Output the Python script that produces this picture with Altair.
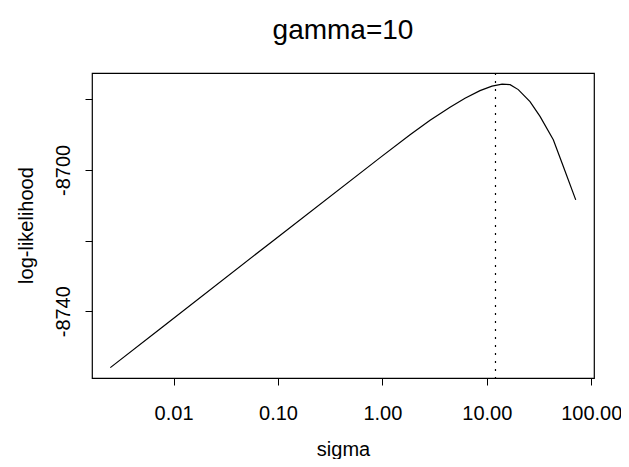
import altair as alt
import pandas as pd

# values
sigma = [0.00248, 0.00746, 0.0906, 0.951, 1.84, 2.86, 4.44, 6.18, 8.60, 11.2,
         14.0, 16.7, 20.0, 25.9, 32.3, 43.3, 54.0, 71.0]
loglik = [-8755.97, -8744.97, -8719.97, -8696.54, -8690.07, -8685.96, -8682.27,
          -8679.72, -8677.59, -8676.31, -8675.74, -8675.89, -8677.30, -8680.71,
          -8684.88, -8691.49, -8699.06, -8708.51]
sigma_hat = [12.1]
x_ticks = [0.01, 0.1, 1, 10, 100]
y_ticks = [-8740, -8720, -8700, -8680]
x_domain = [0.001656, 106.2]
y_domain = [-8758.9, -8672.6]

df = pd.DataFrame({"sigma": sigma, "loglik": loglik})
vdf = pd.DataFrame({"sigma": sigma_hat})

FONT = "Liberation Sans"

xscale = alt.Scale(type="log", domain=x_domain, nice=False, zero=False)
yscale = alt.Scale(domain=y_domain, nice=False, zero=False)

xaxis = alt.Axis(
    title="sigma", values=x_ticks, format=".2f", grid=False, domain=False,
    ticks=True, tickSize=7, tickColor="black", labelColor="black",
    labelFont=FONT, labelFontSize=20, labelPadding=18, labelFlush=False,
    titleFont=FONT, titleFontSize=20, titleFontWeight="normal", titleColor="black",
    titleY=77, titleBaseline="alphabetic",
)
yaxis = alt.Axis(
    title="log-likelihood", values=y_ticks,
    labelExpr="datum.value % 40 == 0 ? '' : '' + datum.value",
    grid=False, domain=False, ticks=True, tickSize=7, tickColor="black",
    labelColor="black", labelFont=FONT, labelFontSize=20, labelAngle=270,
    labelAlign="center", labelBaseline="alphabetic", labelPadding=16,
    labelFlush=False, labelOverlap=False,
    titleFont=FONT, titleFontSize=20, titleFontWeight="normal", titleColor="black",
    titleAngle=270, titleX=-60, titleY=152, titleAlign="center",
    titleBaseline="alphabetic",
)

line = alt.Chart(df).mark_line(color="black", strokeWidth=1.2).encode(
    x=alt.X("sigma:Q", scale=xscale, axis=xaxis),
    y=alt.Y("loglik:Q", scale=yscale, axis=yaxis),
)

rule = alt.Chart(vdf).mark_rule(color="black", strokeWidth=1.2, strokeDash=[2, 6]).encode(
    x=alt.X("sigma:Q", scale=xscale),
)

chart = alt.layer(line, rule).properties(
    width=502,
    height=305,
    title=alt.TitleParams(
        text="gamma=10", fontSize=28, font=FONT, fontWeight="normal",
        baseline="alphabetic", offset=5, anchor="middle", color="black",
    ),
    autosize=alt.AutoSizeParams(type="none"),
    padding={"left": 84, "top": 65, "right": 27, "bottom": 81},
).configure(
    background="white",
    view=alt.ViewConfig(stroke="black", strokeWidth=1.2),
)

chart.save("out.html", embed_options={"renderer": "svg", "actions": False})
